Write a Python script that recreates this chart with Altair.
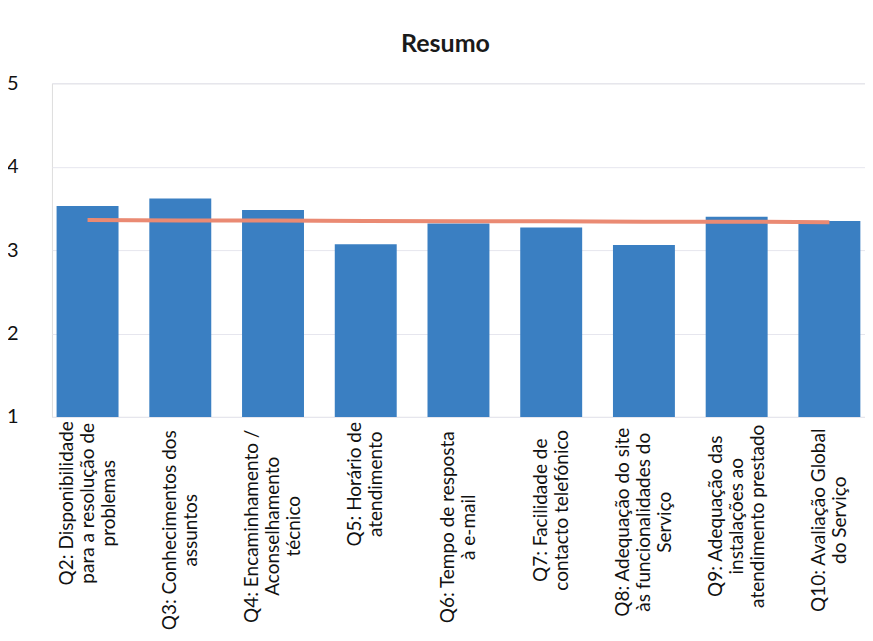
import altair as alt
import pandas as pd

categories = [
    "Q2: Disponibilidade|para a resolução de|problemas",
    "Q3: Conhecimentos dos|assuntos",
    "Q4: Encaminhamento /|Aconselhamento|técnico",
    "Q5: Horário de|atendimento",
    "Q6: Tempo de resposta|à e-mail",
    "Q7: Facilidade de|contacto telefónico",
    "Q8: Adequação do site|às funcionalidades do|Serviço",
    "Q9: Adequação das|instalações ao|atendimento prestado",
    "Q10: Avaliação Global|do Serviço",
]
bar_values = [3.53, 3.62, 3.48, 3.07, 3.32, 3.27, 3.06, 3.40, 3.35]
line_values = [3.36, 3.355, 3.355, 3.35, 3.345, 3.345, 3.34, 3.34, 3.335]
y_ticks = [1, 2, 3, 4, 5]

df = pd.DataFrame({"cat": categories, "valor": bar_values, "media": line_values})

# layout: distance from axis to the centre of each (centred, multi-line) label block
label_pads = [86, 113, 109, 67, 110, 93, 105, 99, 103]
pad_conditions = [
    {"test": f"datum.label == {c!r}", "value": p}
    for c, p in zip(categories, label_pads)
]
LINE_H = 21

x_enc = alt.X(
    "cat:N",
    sort=categories,
    title=None,
    scale=alt.Scale(paddingInner=0.332, paddingOuter=0.05),
    axis=alt.Axis(
        labelAngle=270,
        labelAlign="center",
        labelBaseline="middle",
        labelExpr="split(datum.label, '|')",
        labelFont="Lato",
        labelFontSize=19,
        labelLineHeight=LINE_H,
        labelColor="#111111",
        labelPadding={"condition": pad_conditions, "value": 100},
        labelLimit=0,
        labelOffset={
            "condition": {"test": "length(split(datum.label, '|')) > 2", "value": -LINE_H},
            "value": -LINE_H / 2,
        },
        ticks=False,
        domain=False,
        grid=False,
    ),
)

y_scale = alt.Scale(domain=[1, 5], nice=False, zero=False)

bars = alt.Chart(df).mark_bar(color="#3a7fc2").encode(
    x=x_enc,
    y=alt.Y(
        "valor:Q",
        scale=y_scale,
        title=None,
        axis=alt.Axis(
            values=y_ticks,
            format="d",
            labelFont="Lato",
            labelFontSize=20,
            labelColor="#111111",
            labelPadding=34,
            ticks=False,
            domain=False,
            grid=True,
            gridColor="#e6e6ee",
            gridWidth=1,
        ),
    ),
    y2=alt.datum(1),
)

line = alt.Chart(df).mark_line(color="#ea8a73", strokeWidth=4).encode(
    x=alt.X("cat:N", sort=categories),
    y=alt.Y("media:Q", scale=y_scale),
)

chart = (
    alt.layer(bars, line)
    .properties(
        width=814,
        height=334,
        title=alt.TitleParams(
            "Resumo",
            font="Lato",
            fontSize=25,
            fontWeight="bold",
            color="#1a1a1a",
            anchor="middle",
            offset=16,
            dx=-13,
        ),
        autosize=alt.AutoSizeParams(type="none"),
        padding={"left": 44, "top": 75, "right": 0, "bottom": 222},
    )
    .configure_view(stroke="transparent", strokeWidth=0)
    .configure(background="white")
)

chart.save("out.html", embed_options={"renderer": "svg", "actions": False})
